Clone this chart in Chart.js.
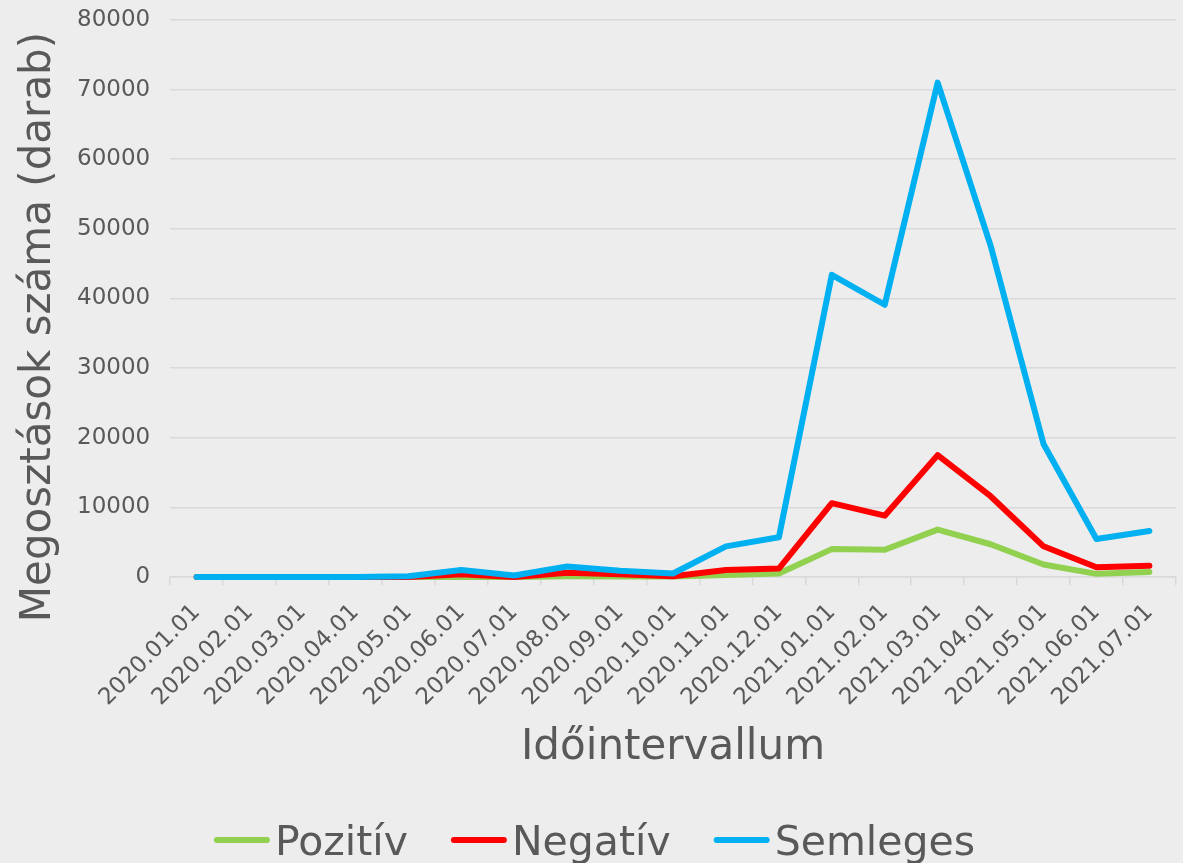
<!DOCTYPE html>
<html>
<head>
<meta charset="utf-8">
<script src="https://cdn.jsdelivr.net/npm/chart.js@4/dist/chart.umd.min.js"></script>
<style>
  html, body { margin: 0; padding: 0; background: #ededed; }
  #wrap { width: 1183px; height: 863px; position: relative; }
</style>
</head>
<body>
<div id="wrap"><canvas id="chart"></canvas></div>
<script>
const months = ['2020.01.01', '2020.02.01', '2020.03.01', '2020.04.01', '2020.05.01', '2020.06.01',
  '2020.07.01', '2020.08.01', '2020.09.01', '2020.10.01', '2020.11.01', '2020.12.01',
  '2021.01.01', '2021.02.01', '2021.03.01', '2021.04.01', '2021.05.01', '2021.06.01', '2021.07.01'];
const pozitiv = [0, 0, 0, 0, 0, 0, 0, 100, 50, 50, 300, 500, 4000, 3900, 6800, 4700, 1800, 450, 700];
const negativ = [0, 0, 0, 0, 0, 400, 0, 600, 400, 100, 1000, 1200, 10600, 8800, 17500, 11600, 4400, 1400, 1600];
const semleges = [0, 0, 0, 0, 100, 1000, 200, 1500, 900, 500, 4400, 5700, 43400, 39100, 71000, 47600, 19100, 5450, 6600];
const yTicks = [0, 10000, 20000, 30000, 40000, 50000, 60000, 70000, 80000];
const yTitle = 'Megosztások száma (darab)';

const textColor = '#595959';
const gridColor = '#d9d9d9';
const font = 'DejaVu Sans, Verdana, sans-serif';

const line = (label, data, color, order) => ({
  label, data, order,
  borderColor: color,
  backgroundColor: color,
  borderWidth: 6,
  pointRadius: 0,
  tension: 0,
  clip: 5,
  borderCapStyle: 'round',
  borderJoinStyle: 'round',
});

// y title sits a bit below the plot centre in the original, so draw it here
const yTitlePlugin = {
  id: 'yTitle',
  afterDraw(chart) {
    const ctx = chart.ctx;
    ctx.save();
    ctx.font = '42px ' + font;
    ctx.fillStyle = textColor;
    ctx.textAlign = 'center';
    ctx.textBaseline = 'middle';
    ctx.translate(39, 327);
    ctx.rotate(-Math.PI / 2);
    ctx.fillText(yTitle, 0, 0);
    ctx.restore();
  },
};

// legend drawn by hand: short line + text, like the office-style legend
const lineLegend = {
  id: 'lineLegend',
  afterDraw(chart) {
    const ctx = chart.ctx;
    const dash = 56, gap = 5, between = 43, lineY = 840, baseY = 855;
    ctx.save();
    ctx.font = '41px ' + font;
    const items = chart.data.datasets.map(ds => ({ text: ds.label, color: ds.borderColor, w: ctx.measureText(ds.label).width }));
    const total = items.reduce((s, it) => s + dash + gap + it.w, 0) + between * (items.length - 1);
    let x = (chart.width - total) / 2 + 3;
    ctx.textBaseline = 'alphabetic';
    ctx.fillStyle = textColor;
    items.forEach(it => {
      ctx.beginPath();
      ctx.strokeStyle = it.color;
      ctx.lineWidth = 6;
      ctx.lineCap = 'round';
      ctx.moveTo(x + 3, lineY);
      ctx.lineTo(x + dash - 3, lineY);
      ctx.stroke();
      ctx.fillText(it.text, x + dash + gap, baseY);
      x += dash + gap + it.w + between;
    });
    ctx.restore();
  },
};

new Chart(document.getElementById('chart'), {
  type: 'line',
  data: {
    labels: months,
    datasets: [
      line('Pozitív', pozitiv, '#92d050', 2),
      line('Negatív', negativ, '#ff0000', 1),
      line('Semleges', semleges, '#00b0f0', 0),
    ],
  },
  plugins: [yTitlePlugin, lineLegend],
  options: {
    responsive: true,
    maintainAspectRatio: false,
    animation: false,
    layout: { padding: { left: 57, right: 4, top: 0, bottom: 90 } },
    plugins: {
      tooltip: { enabled: false },
      legend: { display: false },
    },
    scales: {
      x: {
        offset: true,
        grid: { offset: true, drawOnChartArea: false, drawTicks: true, tickLength: 8, color: gridColor, lineWidth: 1.5 },
        border: { display: true, color: gridColor, width: 1.5 },
        ticks: { color: textColor, font: { family: font, size: 23 }, minRotation: 45, maxRotation: 45, padding: 14, autoSkip: false },
        title: { display: true, text: 'Időintervallum', color: textColor, font: { family: font, size: 42 }, padding: { top: -3, bottom: 0 } },
      },
      y: {
        min: 0,
        max: 80000,
        afterBuildTicks: (axis) => { axis.ticks = yTicks.map(v => ({ value: v })); },
        grid: { color: gridColor, lineWidth: 1.5, drawTicks: false },
        border: { display: false },
        ticks: { color: textColor, font: { family: font, size: 23, lineHeight: '0px' }, padding: 20, callback: (v) => String(v) },
        title: { display: false },
      },
    },
  },
});
</script>
</body>
</html>
